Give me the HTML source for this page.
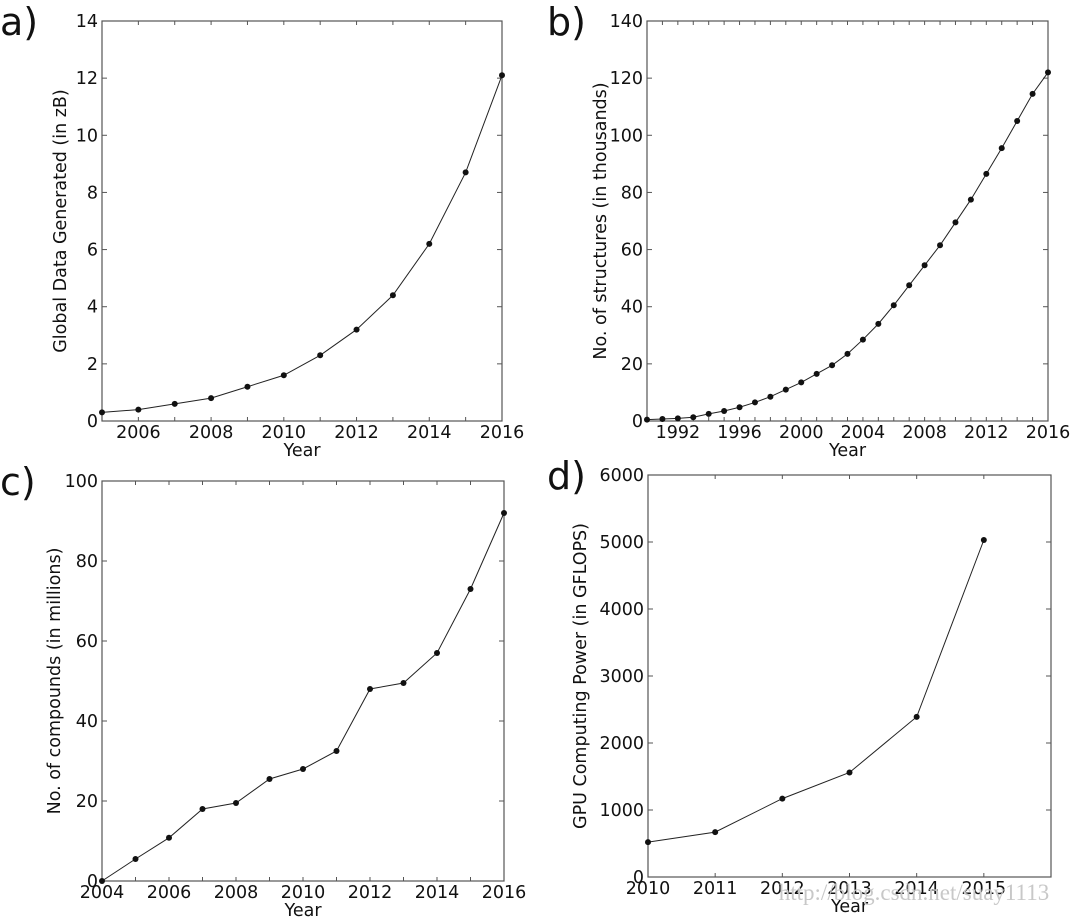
<!DOCTYPE html>
<html><head><meta charset="utf-8"><style>
body{margin:0;background:#fff}
svg{display:block}
text{font-family:"DejaVu Sans","Liberation Sans",sans-serif;fill:#111}
</style></head><body>
<svg id="fig" width="1071" height="920"></svg>
<script>
const aYears=[2005,2006,2007,2008,2009,2010,2011,2012,2013,2014,2015,2016];
const aVals=[0.3,0.4,0.6,0.8,1.2,1.6,2.3,3.2,4.4,6.2,8.7,12.1];
const aXTicks=[2006,2008,2010,2012,2014,2016];
const aYTicks=[0,2,4,6,8,10,12,14];
const bYears=[1990,1991,1992,1993,1994,1995,1996,1997,1998,1999,2000,2001,2002,2003,2004,2005,2006,2007,2008,2009,2010,2011,2012,2013,2014,2015,2016];
const bVals=[0.5,0.7,0.9,1.3,2.5,3.5,4.8,6.5,8.5,11,13.5,16.5,19.5,23.5,28.5,34,40.5,47.5,54.5,61.5,69.5,77.5,86.5,95.5,105,114.5,122];
const bXTicks=[1992,1996,2000,2004,2008,2012,2016];
const bYTicks=[0,20,40,60,80,100,120,140];
const cYears=[2004,2005,2006,2007,2008,2009,2010,2011,2012,2013,2014,2015,2016];
const cVals=[0,5.5,10.8,18,19.5,25.5,28,32.5,48,49.5,57,73,92];
const cXTicks=[2004,2006,2008,2010,2012,2014,2016];
const cYTicks=[0,20,40,60,80,100];
const dYears=[2010,2011,2012,2013,2014,2015];
const dVals=[520,670,1170,1560,2390,5030];
const dXTicks=[2010,2011,2012,2013,2014,2015];
const dYTicks=[0,1000,2000,3000,4000,5000,6000];

const NS="http://www.w3.org/2000/svg";
const svg=document.getElementById('fig');
function mk(tag,attrs,parent){const e=document.createElementNS(NS,tag);for(const k in attrs)e.setAttribute(k,attrs[k]);(parent||svg).appendChild(e);return e;}

function panel(id,letter,box,xd,yd,years,vals,xt,yt,ylabel,minorStep,ylx,lx){
  const g=mk('g',{});
  
  
  const [L,T,R,B]=box;
  const X=v=>L+(v-xd[0])/(xd[1]-xd[0])*(R-L);
  const Y=v=>B-(v-yd[0])/(yd[1]-yd[0])*(B-T);
  const fr=mk('rect',{x:L,y:T,width:R-L,height:B-T,fill:'none',stroke:'#555','stroke-width':1.2},g);
  
  
  for(let v=xd[0];v<=xd[1];v+=minorStep){const x=X(v);
    mk('line',{x1:x,y1:B,x2:x,y2:B-4,stroke:'#555'},g);mk('line',{x1:x,y1:T,x2:x,y2:T+4,stroke:'#555'},g);}
  xt.forEach(v=>{const t=mk('text',{x:X(v),y:B+17,'font-size':17.5,'text-anchor':'middle'},g);t.textContent=v;
    
    });
  yt.forEach(v=>{const y=Y(v);
    mk('line',{x1:L,y1:y,x2:L+5,y2:y,stroke:'#555'},g);mk('line',{x1:R,y1:y,x2:R-5,y2:y,stroke:'#555'},g);
    const t=mk('text',{x:L-4,y:y+6,'font-size':17.5,'text-anchor':'end'},g);t.textContent=v;
    
    });
  const xl=mk('text',{x:(L+R)/2,y:B+35,'font-size':17.5,'text-anchor':'middle'},g);xl.textContent='Year';
  
  
  const yl=mk('text',{x:0,y:0,'font-size':17.5,'text-anchor':'middle',transform:`translate(${ylx},${(T+B)/2}) rotate(-90)`},g);yl.textContent=ylabel;
  
  
  const pl=mk('text',{x:lx,y:T+14,'font-size':38},g);pl.textContent=letter;
  
  
  const line=mk('polyline',{points:years.map((y,i)=>X(y)+','+Y(vals[i])).join(' '),fill:'none',stroke:'#222','stroke-width':1},g);
  
  
  years.forEach((y,i)=>{const c=mk('circle',{cx:X(y),cy:Y(vals[i]),r:3,fill:'#111'},g);
    
    });
}
panel('a','a)',[102,21,502,421],[2005,2016],[0,14],aYears,aVals,aXTicks,aYTicks,'Global Data Generated (in zB)',1,66,0);
panel('b','b)',[647,21,1048,421],[1990,2016],[0,140],bYears,bVals,bXTicks,bYTicks,'No. of structures (in thousands)',1,606,547);
panel('c','c)',[102,481,504,881],[2004,2016],[0,100],cYears,cVals,cXTicks,cYTicks,'No. of compounds (in millions)',1,60,0);
panel('d','d)',[648,475,1051,877],[2010,2016],[0,6000],dYears,dVals,dXTicks,dYTicks,'GPU Computing Power (in GFLOPS)',1,586,547);
const wm=mk('text',{x:914,y:900,'font-size':23,'text-anchor':'middle',style:'font-family:"Liberation Serif",serif;fill:#c8c8c8'});
wm.textContent='http://blog.csdn.net/suay1113';


</script>
</body></html>
